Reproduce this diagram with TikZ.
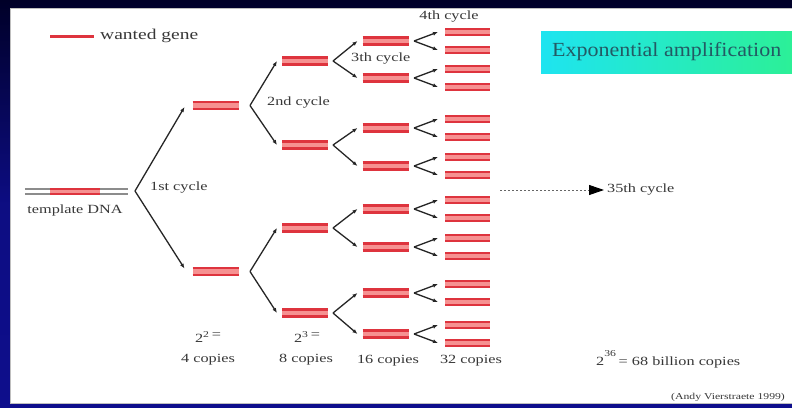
\documentclass[tikz,border=0pt]{standalone}
\usepackage{fontspec}
\setmainfont{Liberation Serif}
\usetikzlibrary{arrows.meta}
\definecolor{navy}{RGB}{0,0,40}
\definecolor{bblue}{RGB}{14,14,140}
\definecolor{genered}{RGB}{222,52,62}
\definecolor{genepink}{RGB}{246,145,145}
\definecolor{txt}{RGB}{55,55,55}
\definecolor{boxl}{RGB}{30,228,240}
\definecolor{boxr}{RGB}{44,240,150}
\definecolor{boxtxt}{RGB}{35,90,100}
\definecolor{dnagray}{RGB}{140,140,140}
\newcommand\wx[1]{\scalebox{1.3}[1]{#1}}
\begin{document}
\begin{tikzpicture}[x=1pt,y=-1pt,
  lbl/.style={font=\fontsize{12.5}{14}\selectfont, text=txt, inner sep=0},
  geneline/.style={draw=genered, line width=2.6pt},
  dup/.style={rectangle, minimum width=#1, minimum height=7pt, inner sep=0, outer sep=0, fill=genepink,
    append after command={(\tikzlastnode.north west) edge[geneline] (\tikzlastnode.north east)
                          (\tikzlastnode.south west) edge[geneline] (\tikzlastnode.south east)}},
  dup/.default=46pt,
  quad/.style={dup=45pt, minimum height=6pt},
  arr/.style={draw=black!85, line width=1.3pt, -{Latex[length=5pt,width=4pt]}},
]
\useasboundingbox (0,0) rectangle (792,407);
\clip (0,0) rectangle (792,407);
% frame
\fill[top color=navy, bottom color=bblue, middle color=bblue!90!navy] (0,0) rectangle (792,407);
\fill[white, draw=black!25, line width=0.8pt] (10,8) rectangle (800,403);

% title box
\fill[left color=boxl, right color=boxr] (541,31) rectangle (796,73);
\node[anchor=west, font=\fontsize{20}{22}\selectfont, text=boxtxt, inner sep=0] (expo) at (552,52) {\scalebox{1.1}[1]{Exponential amplification}};

% legend
\coordinate (lg1) at (50,36);
\coordinate (lg2) at (94,36);
\draw[genered, line width=3pt] (lg1) -- (lg2);
\node[lbl, font=\fontsize{15}{17}\selectfont, anchor=west] (lgt) at (100,36) {\wx{wanted gene}};

% template DNA
\node[minimum width=103pt, minimum height=5pt, inner sep=0] (c0) at (76.5,191.5) {};
\draw[dnagray, line width=1.5pt] (c0.north west) -- (c0.north east) (c0.south west) -- (c0.south east);
\node[dup=50pt, minimum height=5pt] (gene0) at (75,191.5) {};
\node[lbl] (tdna) at (75,210) {\wx{template DNA}};

% 3rd and 4th generation
\foreach \n/\y in {a/41,b/78,c/128,d/166,e/209,f/247,g/293,h/334}{
  \node[dup] (c3\n) at (385.5,\y) {};
  \node[quad] (c4\n1) at (467.5,\y-9) {};
  \node[quad] (c4\n2) at (467.5,\y+9) {};
  \coordinate (v3\n) at (414,\y);
  \draw[arr] (v3\n) -- ([xshift=-7pt]c4\n1.west);
  \draw[arr] (v3\n) -- ([xshift=-7pt]c4\n2.west);
}
% 2nd generation
\foreach \n/\y/\p/\q in {a/61/a/b, b/145/c/d, c/228/e/f, d/313/g/h}{
  \node[dup] (c2\n) at (305,\y) {};
  \coordinate (v2\n) at (333,\y);
  \draw[arr] (v2\n) -- ([xshift=-5pt]c3\p.west);
  \draw[arr] (v2\n) -- ([xshift=-5pt]c3\q.west);
}
% 1st generation
\node[dup] (c1a) at (215.5,105.5) {};
\node[dup] (c1b) at (215.5,271.5) {};
\coordinate (v1a) at (250,105.5);
\coordinate (v1b) at (250,271.5);
\draw[arr] (v1a) -- ([xshift=-5pt]c2a.west);
\draw[arr] (v1a) -- ([xshift=-5pt]c2b.west);
\draw[arr] (v1b) -- ([xshift=-5pt]c2c.west);
\draw[arr] (v1b) -- ([xshift=-5pt]c2d.west);
\coordinate (v0) at (135,191);
\draw[arr] (v0) -- ([xshift=-8pt,yshift=-1.5pt]c1a.west);
\draw[arr] (v0) -- ([xshift=-8pt,yshift=3pt]c1b.west);

% cycle labels
\node[lbl, anchor=west] (l1) at (150,188) {\wx{1st cycle}};
\node[lbl, anchor=west] (l2) at (267,103) {\wx{2nd cycle}};
\node[lbl, anchor=west] (l3) at (351,59) {\wx{3th cycle}};
\node[lbl] (l4) at (449,17) {\wx{4th cycle}};

% 35th cycle
\coordinate (dstart) at (500,190);
\node[lbl, anchor=west] (n35) at (607,190) {\wx{35th cycle}};
\draw[black!60, line width=1pt, dash pattern=on 2pt off 2pt, -{Triangle[length=15pt,width=10pt,color=black]}, shorten >=3pt] (dstart) -- (n35.west);

% counts
\node[lbl] (e2) at (208,337) {\wx{2\raisebox{5pt}{\fontsize{9}{9}\selectfont 2}\,\raisebox{4pt}{=}}};
\node[lbl] (k4) at (208,360) {\wx{4 copies}};
\node[lbl] (e3) at (307,337) {\wx{2\raisebox{5pt}{\fontsize{9}{9}\selectfont 3}\,\raisebox{4pt}{=}}};
\node[lbl] (k8) at (306,360) {\wx{8 copies}};
\node[lbl] (k16) at (388,361) {\wx{16 copies}};
\node[lbl] (k32) at (471,361) {\wx{32 copies}};
\node[lbl, anchor=west] (e36) at (596,359) {\wx{2\raisebox{9pt}{\fontsize{9}{9}\selectfont 36}\,= 68 billion copies}};
\node[lbl, font=\fontsize{9}{10}\selectfont, anchor=west] (cred) at (671,397) {\wx{(Andy Vierstraete 1999)}};
\end{tikzpicture}
\end{document}
